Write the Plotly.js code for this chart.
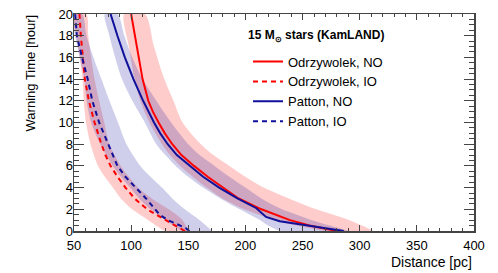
<!DOCTYPE html>
<html>
<head>
<meta charset="utf-8">
<script src="https://cdn.plot.ly/plotly-3.0.1.min.js"></script>
<style>html,body{margin:0;padding:0;background:#fff;}#chart{width:498px;height:273px;}</style>
</head>
<body>
<div id="chart"></div>
<script>
// ---- Data (distance in pc vs warning time in hours) ----
const seriesNames = ["Odrzywolek, NO", "Odrzywolek, IO", "Patton, NO", "Patton, IO"];

// Odrzywolek, NO central curve
const hOdrNO = [0, 0.5, 1, 1.5, 2, 3, 4, 5, 6, 7, 8, 9, 10, 11, 12, 13, 14, 20];
const dOdrNO = [280, 256, 239, 226, 214, 194, 180, 167, 155, 144, 136, 129.5, 124, 119, 115, 112.5, 110, 100];
// Odrzywolek, NO band
const hOdrNOBand = [0, 0.5, 1, 2, 3, 4, 5, 6, 7, 8, 10, 12, 14, 17, 20];
const dOdrNOLow  = [270, 245, 226, 199, 180, 166, 154, 143, 134, 127, 116, 108, 103, 98, 94];
const dOdrNOHigh = [312, 302, 291, 262, 238, 216, 200, 186, 172, 161, 145, 137, 129, 120, 112];

// Patton, NO central curve
const hPatNO = [0, 0.25, 0.5, 0.9, 1.3, 2.1, 3, 4, 5, 6, 7, 8, 9, 10, 11, 12, 14, 16, 18, 20];
const dPatNO = [286, 270, 252, 230, 218, 209.6, 193, 177, 163, 151, 140, 132, 125.5, 120, 115, 110.5, 102, 94.5, 88, 82];
// Patton, NO band
const hPatNOBand = [0, 0.5, 1, 1.5, 2, 3, 4, 5, 6, 7, 8, 10, 12, 14, 16, 18, 20];
const dPatNOLow  = [230, 220, 213, 204, 195, 178, 163, 150, 139, 130, 122, 112, 101, 92, 86, 81, 77];
const dPatNOHigh = [290, 274, 258, 245, 232, 214, 200, 186, 173, 160, 150, 135, 122, 110, 101, 94, 88];

// Odrzywolek, IO central curve
const hOdrIO = [0, 0.5, 1, 1.5, 2, 3, 4, 5, 6, 7, 8, 10, 12, 14, 16, 18, 20];
const dOdrIO = [147, 139, 131, 122, 114, 103, 95, 88, 82, 77.5, 74, 68, 63, 59.5, 57.5, 56, 54.8];
// Odrzywolek, IO band
const hOdrIOBand = [0, 1, 2, 3, 4, 5, 6, 8, 10, 12, 14, 16, 18, 20];
const dOdrIOLow  = [129, 115, 101, 91, 84, 77, 71, 64.5, 60.5, 58.5, 57.5, 55, 52, 49];
const dOdrIOHigh = [150, 145, 133, 118, 106, 98, 91, 81, 76.5, 72, 68, 65, 62.5, 60.7];

// Patton, IO central curve
const hPatIO = [0, 0.25, 0.5, 1, 1.5, 2, 3, 4, 5, 6, 7, 8, 10, 12, 14, 16, 18, 20];
const dPatIO = [151, 148, 143, 132, 125, 121, 113, 104, 95, 88, 84, 80, 72, 66, 62, 57, 52.5, 51];
// Patton, IO band
const hPatIOBand = [0, 1, 2, 3, 4, 5, 6, 8, 10, 12, 14, 16, 18, 20];
const dPatIOLow  = [144, 130, 117, 107, 99, 91, 84, 73, 65, 61, 59, 55, 51, 48];
const dPatIOHigh = [171, 160, 147, 136, 127, 117, 108, 96, 88.5, 81, 74, 67, 61, 57];

const xTicks = [50, 100, 150, 200, 250, 300, 350, 400];
const yTicks = [0, 2, 4, 6, 8, 10, 12, 14, 16, 18, 20];

// ---- Styles ----
const RED = '#ff0000';
const BLUE = '#10109a';
const RED_FILL = 'rgba(255,0,0,0.2)';
const BLUE_FILL = 'rgba(16,16,154,0.2)';
const FONT = 'Liberation Sans, Arial, Helvetica, sans-serif';

function band(h, lo, hi, color) {
  return {
    x: lo.concat(hi.slice().reverse()),
    y: h.concat(h.slice().reverse()),
    type: 'scatter', mode: 'lines', fill: 'toself',
    fillcolor: color, line: {width: 0, color: 'rgba(0,0,0,0)', shape: 'spline', smoothing: 0.8},
    hoverinfo: 'skip', showlegend: false
  };
}
function curve(h, d, name, color, dash) {
  return {
    x: d, y: h, type: 'scatter', mode: 'lines', name: name,
    line: {color: color, width: 2, dash: dash}
  };
}

const data = [
  band(hOdrNOBand, dOdrNOLow, dOdrNOHigh, RED_FILL),
  band(hOdrIOBand, dOdrIOLow, dOdrIOHigh, RED_FILL),
  band(hPatNOBand, dPatNOLow, dPatNOHigh, BLUE_FILL),
  band(hPatIOBand, dPatIOLow, dPatIOHigh, BLUE_FILL),
  curve(hOdrNO, dOdrNO, seriesNames[0], RED, 'solid'),
  curve(hOdrIO, dOdrIO, seriesNames[1], RED, '5px,4px'),
  curve(hPatNO, dPatNO, seriesNames[2], BLUE, 'solid'),
  curve(hPatIO, dPatIO, seriesNames[3], BLUE, '5px,4px')
];

const axisCommon = {
  showgrid: false, zeroline: false, showline: true,
  linecolor: '#444', linewidth: 1.5, mirror: 'ticks',
  ticks: 'inside', tickcolor: '#444', tickwidth: 1,
  tickfont: {family: FONT, size: 13, color: '#000'}
};

const layout = {
  width: 498, height: 273,
  margin: {l: 74, r: 24, t: 14, b: 42, pad: 0},
  paper_bgcolor: '#fff', plot_bgcolor: '#fff',
  font: {family: FONT, size: 13, color: '#000'},
  xaxis: Object.assign({}, axisCommon, {
    range: [50, 400], tickvals: xTicks, ticktext: xTicks.map(String),
    ticklen: 6, ticklabelstandoff: 2,
    minor: {dtick: 10, ticklen: 3, ticks: 'inside', tickcolor: '#444'}
  }),
  yaxis: Object.assign({}, axisCommon, {
    range: [0, 20], tickvals: yTicks, ticktext: yTicks.map(String),
    ticklen: 10, ticklabelstandoff: -3,
    minor: {dtick: 0.5, ticklen: 5, ticks: 'inside', tickcolor: '#444'}
  }),
  showlegend: true,
  legend: {
    x: 0.435, y: 0.85, xanchor: 'left', yanchor: 'top',
    bgcolor: 'rgba(0,0,0,0)', borderwidth: 0,
    font: {family: FONT, size: 13, color: '#000'},
    traceorder: 'normal'
  },
  annotations: [
    {text: 'Warning Time [hour]', xref: 'paper', yref: 'paper',
     x: -0.11, y: 1.005, xanchor: 'center', yanchor: 'top', textangle: -90,
     showarrow: false, font: {family: FONT, size: 13, color: '#000'}},
    {text: 'Distance [pc]', xref: 'paper', yref: 'paper',
     x: 1, y: -0.143, xanchor: 'right', yanchor: 'middle',
     showarrow: false, font: {family: FONT, size: 14, color: '#000'}},
    {text: '<b>15 M<sub>⊙</sub> stars (KamLAND)</b>', xref: 'paper', yref: 'paper',
     x: 0.43, y: 0.9, xanchor: 'left', yanchor: 'middle',
     showarrow: false, font: {family: FONT, size: 12, color: '#000'}}
  ]
};

Plotly.newPlot('chart', data, layout, {displayModeBar: false, staticPlot: true});
</script>
</body>
</html>
